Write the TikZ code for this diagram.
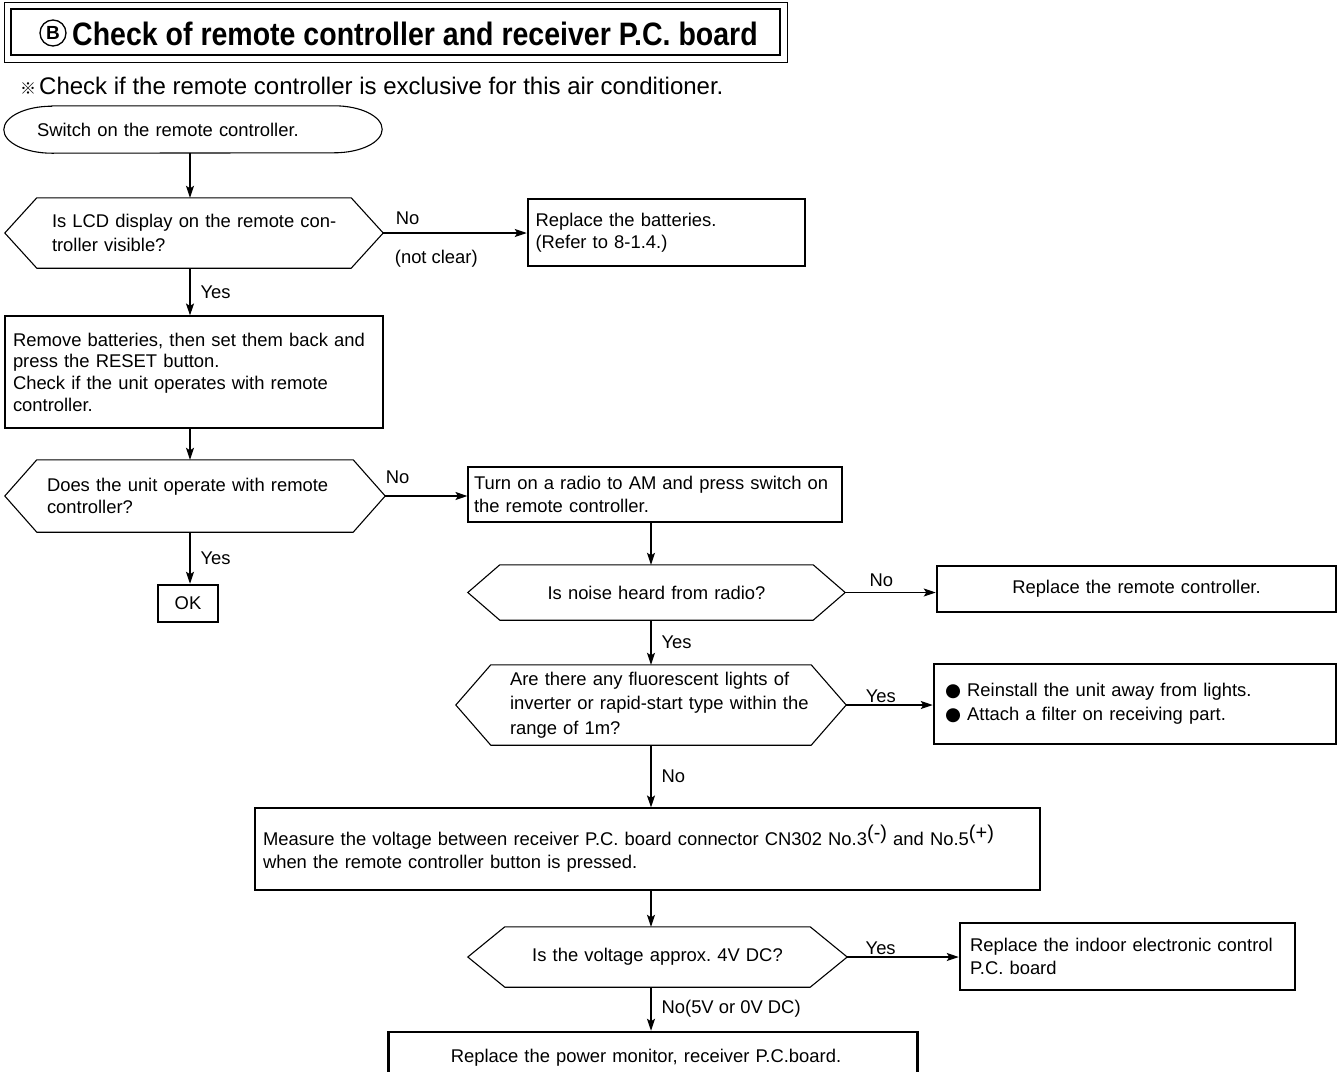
\documentclass[tikz,border=0pt]{standalone}
\usepackage{fontspec}
\setmainfont{Liberation Sans}
\newfontfamily\titlefont[FakeStretch=0.88]{Liberation Sans}
\newfontfamily\symfont{DejaVu Sans}
\newfontfamily\cjkfont{Noto Sans CJK JP}
\usetikzlibrary{arrows.meta,calc}
\frenchspacing
\newcommand\supx[1]{\raisebox{0.6ex}{\fontsize{20}{20}\selectfont #1}}
\newcommand\hexline[2]{\draw[line width=1.1pt] (#1.west) -- ([xshift=#2]#1.north west) -- ([xshift=-#2]#1.north east) -- (#1.east) -- ([xshift=-#2]#1.south east) -- ([xshift=#2]#1.south west) -- cycle;}
\tikzset{
  base/.style={font=\fontsize{18.4}{22.5}\selectfont, inner ysep=0pt, align=left, rectangle},
  thinbox/.style={base, draw, line width=1.1pt},
  thickbox/.style={base, draw, line width=2.5pt},
  hexn/.style={base},
  conn/.style={line width=1.2pt, -{Stealth[length=12pt,width=8pt,inset=2.5pt]}},
  lab/.style={font=\fontsize{18.4}{22}\selectfont, inner sep=2pt},
}
\begin{document}
\begin{tikzpicture}[x=1pt,y=-1pt]
\useasboundingbox (0,0) rectangle (1341,1071);
\clip (0,0) rectangle (1341,1071);
% title
\node[draw, line width=1pt, minimum width=783, minimum height=60, inner sep=0] (tout) at (395.5,32) {};
\node[draw, line width=1.7pt, minimum width=769, minimum height=46, inner sep=0] (tin) at (395.5,32) {};
\node[circle, draw, line width=1.3pt, minimum size=26, inner sep=0, font=\fontsize{19}{19}\selectfont\bfseries] (circB) at (53,33) {B};
\node[anchor=west, inner sep=0, font=\titlefont\fontsize{32.4}{32}\selectfont\bfseries] (ttext) at (72,33.5) {Check of remote controller and receiver P.C. board};
\node[anchor=west, inner sep=0, font=\fontsize{24}{24}\selectfont] (note) at (20,86) {{\cjkfont\fontsize{16}{16}\selectfont ※}\hspace{3pt}Check if the remote controller is exclusive for this air conditioner.};
% columns
\coordinate (c1) at (190,0);
\coordinate (c2) at (651,0);
% left column
\node[base, minimum width=378, minimum height=47, text width=312, inner xsep=33] (oval) at (193,129.5) {Switch on the remote controller.};
\draw[line width=1.1pt] ([xshift=48pt]oval.north west) -- ([xshift=-48pt]oval.north east) arc[start angle=90, end angle=-90, x radius=48pt, y radius=23.5pt] -- ([xshift=48pt]oval.south west) arc[start angle=270, end angle=90, x radius=48pt, y radius=23.5pt] -- cycle;
\node[hexn, minimum height=70, text width=284, inner xsep=47, font=\fontsize{18.4}{24}\selectfont] (h1) at (194,233) {\mbox{Is LCD display on the remote con-}\\troller visible?};
\hexline{h1}{32}
\node[thickbox, minimum height=67, text width=262, inner xsep=7.5] (bat) at (666.5,232.5) {Replace the batteries.\\(Refer to 8-1.4.)};
\node[thinbox, minimum height=112, text width=362, inner xsep=8, font=\fontsize{18.4}{21.7}\selectfont] (box2) at (194,372) {\mbox{Remove batteries, then set them back and}\\press the RESET button.\\Check if the unit operates with remote\\controller.};
\node[hexn, minimum height=72, text width=296, inner xsep=42] (h2) at (195,496) {\mbox{Does the unit operate with remote}\\controller?};
\hexline{h2}{32}
\node[thickbox, minimum width=60, minimum height=37, inner xsep=0, align=center] (ok) at (188,603.5) {OK};
% right column
\node[thinbox, minimum height=55, text width=362, inner xsep=6] (box3) at (655,494.5) {\mbox{Turn on a radio to AM and press switch on}\\the remote controller.};
\node[hexn, minimum height=55, text width=313, inner xsep=32, align=center] (h3) at (656.5,592.5) {Is noise heard from radio?};
\hexline{h3}{32}
\node[thickbox, minimum height=46, text width=380, inner xsep=9.5, align=center] (rrc) at (1136.5,589) {Replace the remote controller.};
\node[hexn, minimum height=80, text width=282, inner xsep=54, font=\fontsize{18.4}{24.5}\selectfont] (h4) at (651,705) {\mbox{Are there any fluorescent lights of}\\\mbox{inverter or rapid-start type within the}\\range of 1m?};
\hexline{h4}{35}
\node[thickbox, minimum height=80, text width=380, inner xsep=11, font=\fontsize{18.4}{24}\selectfont] (rein) at (1135,704) {{\symfont ●} Reinstall the unit away from lights.\\{\symfont ●} Attach a filter on receiving part.};
\node[thinbox, minimum height=82, text width=769, inner xsep=8, font=\fontsize{18.4}{23}\selectfont] (meas) at (647.5,849) {\mbox{Measure the voltage between receiver P.C. board connector CN302 No.3\supx{(-)} and No.5\supx{(+)}}\\when the remote controller button is pressed.};
\node[hexn, minimum height=60, text width=305, inner xsep=37, align=center] (h5) at (657.5,957) {Is the voltage approx. 4V DC?};
\hexline{h5}{37}
\node[thickbox, minimum height=67, text width=315, inner xsep=10, font=\fontsize{18.4}{23}\selectfont] (indoor) at (1127.5,956.5) {Replace the indoor electronic control\\P.C. board};
\node[thickbox, minimum height=52, text width=510, inner xsep=9.5, align=center] (bottom) at (653,1058) {\hspace*{-14pt}Replace the power monitor, receiver P.C.board.};
% connectors
\draw[conn] (c1 |- oval.south) -- (c1 |- h1.north);
\draw[conn] (h1.east) -- node[lab, pos=0.17, above=6pt] (l1) {No} node[lab, pos=0.37, below=15pt] (l2) {(not clear)} (h1.east -| bat.west);
\draw[conn] (c1 |- h1.south) -- node[lab, right=8pt] (l3) {Yes} (c1 |- box2.north);
\draw[conn] (c1 |- box2.south) -- (c1 |- h2.north);
\draw[conn] (h2.east) -- node[lab, pos=0.15, above=10pt] (l4) {No} (h2.east -| box3.west);
\draw[conn] (c1 |- h2.south) -- node[lab, right=8pt] (l5) {Yes} (c1 |- ok.north);
\draw[conn] (c2 |- box3.south) -- (c2 |- h3.north);
\draw[conn] (h3.east) -- node[lab, pos=0.4, above=3pt] (l6) {No} (h3.east -| rrc.west);
\draw[conn] (c2 |- h3.south) -- node[lab, right=8pt] (l7) {Yes} (c2 |- h4.north);
\draw[conn] (h4.east) -- node[lab, pos=0.4, above=0pt] (l8) {Yes} (h4.east -| rein.west);
\draw[conn] (c2 |- h4.south) -- node[lab, right=8pt] (l9) {No} (c2 |- meas.north);
\draw[conn] (c2 |- meas.south) -- (c2 |- h5.north);
\draw[conn] (h5.east) -- node[lab, pos=0.3, above=0pt] (l10) {Yes} (h5.east -| indoor.west);
\draw[conn] (c2 |- h5.south) -- node[lab, right=8pt] (l11) {No(5V or 0V DC)} (c2 |- bottom.north);
\end{tikzpicture}
\end{document}
